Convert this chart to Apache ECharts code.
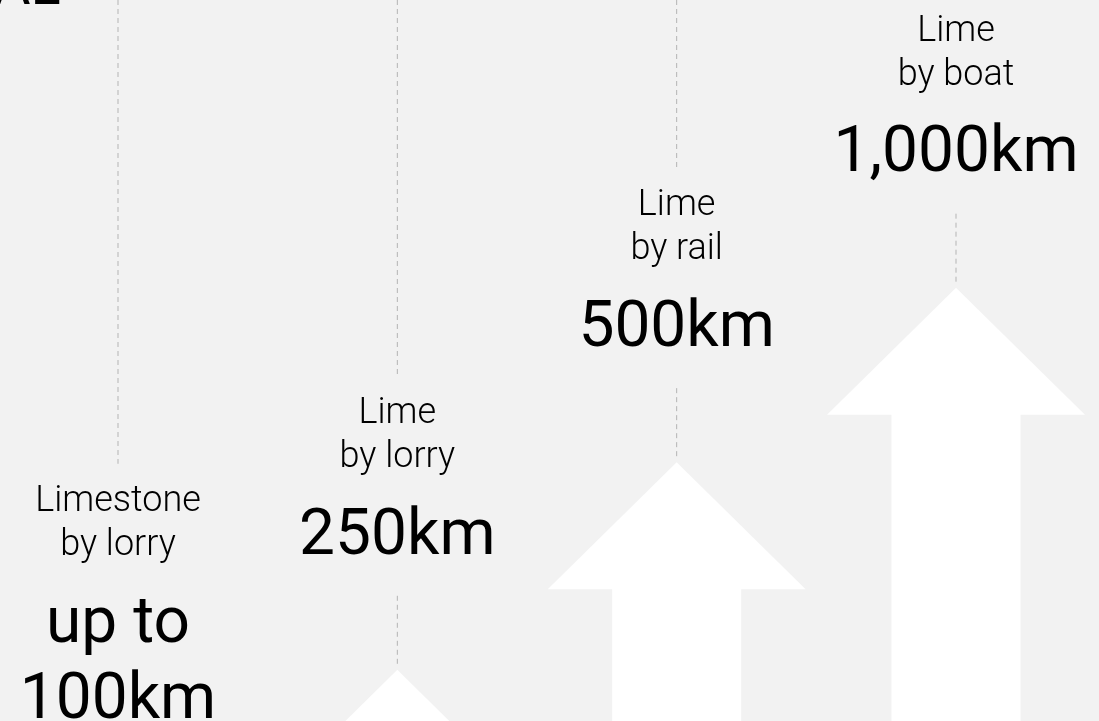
<!DOCTYPE html>
<html>
<head>
<meta charset="utf-8">
<title>Lime transport distances</title>
<script src="https://cdn.jsdelivr.net/npm/echarts@6/dist/echarts.min.js"></script>
<style>
  html, body { margin: 0; padding: 0; background: #f2f2f2; }
  #chart { width: 1099px; height: 721px; }
</style>
</head>
<body>
<div id="chart"></div>
<script>
// data
const routes = ['Limestone by lorry', 'Lime by lorry', 'Lime by rail', 'Lime by boat'];
const materials = ['Limestone', 'Lime', 'Lime', 'Lime'];
const transport = ['by lorry', 'by lorry', 'by rail', 'by boat'];
const distanceKm = [100, 250, 500, 1000];
const distanceLabels = [['up to', '100km'], ['250km'], ['500km'], ['1,000km']];
// height of each arrow tip, % of the chart height (from the bottom)
const arrowLevel = [-5.1, 7.1, 35.9, 60.1];

const chart = echarts.init(document.getElementById('chart'));

const dashStyle = { stroke: '#b4b4b4', lineWidth: 1, lineDash: [5, 4] };

// one line of text, placed by its baseline
function textLine(str, x, baseline, size, weight) {
    return {
        type: 'text',
        x: x,
        y: baseline - size * 0.16,
        style: {
            text: str,
            fill: '#000',
            font: weight + ' ' + size + 'px Roboto',
            align: 'center',
            verticalAlign: 'middle'
        }
    };
}

function renderArrow(params, api) {
    const i = params.dataIndex;
    const p = api.coord([api.value(0), api.value(1)]);
    const x = p[0], tip = p[1];
    const cs = params.coordSys;
    const bottom = cs.y + cs.height + 20;
    const headW = 129, headH = 127, shaftW = 64.5;
    const children = [];

    const b1 = tip - 250; // baseline of the first label line
    const upperEnd = b1 - 44;
    if (upperEnd > cs.y) {
        children.push({ type: 'line', shape: { x1: x, y1: cs.y, x2: x, y2: upperEnd }, style: dashStyle });
    }
    children.push(textLine(materials[i], x, b1, 36, 300));
    children.push(textLine(transport[i], x, b1 + 44, 36, 300));

    const lines = distanceLabels[i];
    const valueBase = b1 + 128;
    lines.forEach((t, k) => children.push(textLine(t, x, valueBase + k * 76, 64, 400)));

    const lowerStart = valueBase + (lines.length - 1) * 76 + 48;
    if (lowerStart < tip) {
        children.push({ type: 'line', shape: { x1: x, y1: lowerStart, x2: x, y2: tip - 2 }, style: dashStyle });
    }

    // white arrow
    children.push({
        type: 'polygon',
        shape: {
            points: [
                [x, tip], [x + headW, tip + headH], [x + shaftW, tip + headH], [x + shaftW, bottom],
                [x - shaftW, bottom], [x - shaftW, tip + headH], [x - headW, tip + headH]
            ]
        },
        style: { fill: '#ffffff' }
    });
    return { type: 'group', children: children };
}

const option = {
    backgroundColor: '#f2f2f2',
    animation: false,
    grid: { left: 118, right: 143, top: 0, bottom: 0 },
    xAxis: { type: 'category', data: routes, boundaryGap: false, show: false },
    yAxis: { type: 'value', min: 0, max: 100, show: false },
    graphic: [{
        type: 'text',
        x: -6,
        y: -10.5,
        style: { text: 'AL', font: '400 56px Roboto', fill: '#000', verticalAlign: 'middle' }
    }],
    series: [{
        type: 'custom',
        renderItem: renderArrow,
        clip: false,
        data: routes.map((r, i) => [i, arrowLevel[i], distanceKm[i]])
    }]
};
chart.setOption(option);

window.addEventListener('resize', () => chart.resize());
</script>
</body>
</html>
